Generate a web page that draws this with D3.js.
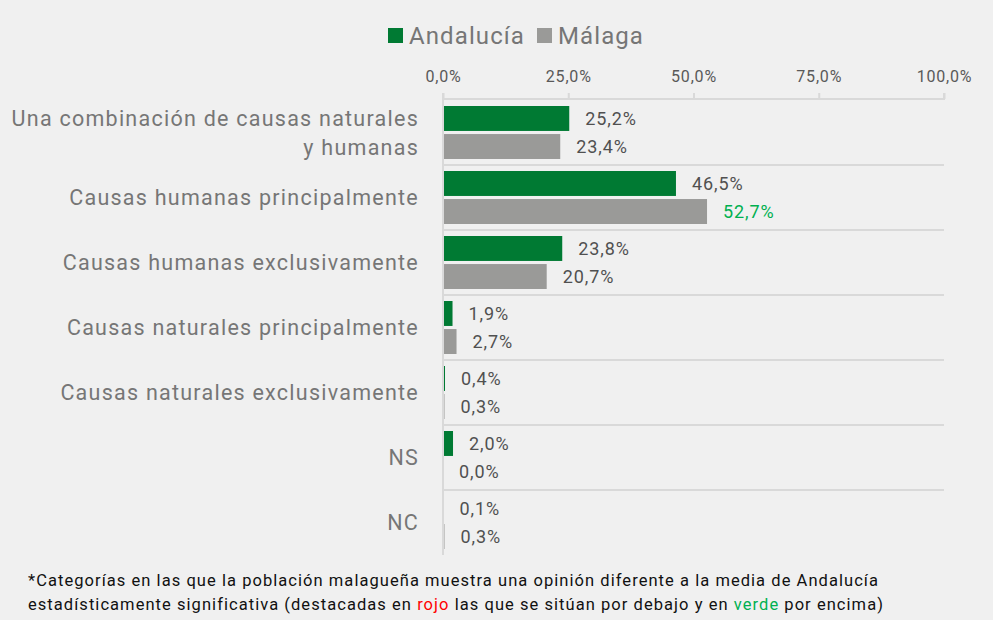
<!DOCTYPE html>
<html>
<head>
<meta charset="utf-8">
<script src="https://cdn.jsdelivr.net/npm/d3@7"></script>
<style>
  body { margin: 0; background: #f0f0f0; }
  svg { display: block; font-family: Roboto, "DejaVu Sans", sans-serif; }
</style>
</head>
<body>
<script>
'use strict';
// categories and values
let categories = [
  ["Una combinación de causas naturales", "y humanas"],
  ["Causas humanas principalmente"],
  ["Causas humanas exclusivamente"],
  ["Causas naturales principalmente"],
  ["Causas naturales exclusivamente"],
  ["NS"],
  ["NC"]
];
let andalucia = [25.2, 46.5, 23.8, 1.9, 0.4, 2.0, 0.1];
let malaga = [23.4, 52.7, 20.7, 2.7, 0.3, 0.0, 0.3];
// significance flag for Málaga vs Andalucía: 1 above, -1 below, 0 none
let malagaSig = [0, 1, 0, 0, 0, 0, 0];
let seriesNames = ["Andalucía", "Málaga"];
let xTicks = [0, 25, 50, 75, 100];

(function() {
  let width = 993, height = 620;
  let green = "#007a33", grey = "#9a9a98";
  let textGrey = "#595959", labelGrey = "#767676";

  let svg = d3.select("body").append("svg")
    .attr("width", width)
    .attr("height", height);

  svg.append("rect")
    .attr("width", width).attr("height", height)
    .attr("fill", "#f0f0f0");

  let x = d3.scaleLinear().domain([0, 100]).range([443, 944]);
  let y = d3.scaleBand().domain(d3.range(categories.length)).range([100, 555]);
  let inner = d3.scaleBand().domain([0, 1]).range([6, y.bandwidth() - 6]).paddingInner(0.11);

  let fmt = v => v.toFixed(1).replace(".", ",") + "%";

  // top axis
  let xAxis = d3.axisTop(x)
    .tickValues(xTicks)
    .tickSize(6)
    .tickFormat(fmt);
  let ax = svg.append("g")
    .attr("transform", "translate(0,99)")
    .call(xAxis);
  ax.select(".domain").attr("stroke", "#d9d9d9").attr("stroke-width", 2)
    .attr("d", "M443,-6V0H944V-6");
  ax.selectAll(".tick line").attr("stroke", "#d9d9d9").attr("stroke-width", 2);
  ax.selectAll(".tick text")
    .attr("y", -17)
    .attr("fill", textGrey)
    .style("font-size", "16px")
    .style("letter-spacing", "0.8px")
    .style("font-family", "Roboto, sans-serif");

  // category separators and left line
  svg.append("g").selectAll("line")
    .data(d3.range(1, categories.length))
    .enter().append("line")
      .attr("x1", x(0)).attr("x2", x(100))
      .attr("y1", d => y(d)).attr("y2", d => y(d))
      .attr("stroke", "#d9d9d9").attr("stroke-width", 2);
  svg.append("line")
    .attr("x1", x(0)).attr("x2", x(0))
    .attr("y1", 93).attr("y2", 555)
    .attr("stroke", "#d9d9d9").attr("stroke-width", 2);

  // bars
  let series = [andalucia, malaga];
  let colors = [green, grey];
  series.forEach((vals, s) => {
    let g = svg.append("g");
    g.selectAll("rect")
      .data(vals)
      .enter().append("rect")
        .attr("x", x(0) + 1)
        .attr("y", (d, i) => y(i) + inner(s))
        .attr("width", d => Math.max(0, x(d) - x(0) - 1))
        .attr("height", inner.bandwidth())
        .attr("fill", colors[s]);
    g.selectAll("text")
      .data(vals)
      .enter().append("text")
        .attr("x", d => Math.max(x(d), x(0)) + 16)
        .attr("y", (d, i) => y(i) + inner(s) + inner.bandwidth() / 2)
        .attr("dy", "0.35em")
        .attr("fill", (d, i) => {
          if (s === 1 && malagaSig[i] === 1) return "#00b050";
          if (s === 1 && malagaSig[i] === -1) return "#ff0000";
          return "#505050";
        })
        .style("font-size", "18px")
        .style("letter-spacing", "0.9px")
        .text(fmt);
  });

  // category labels
  let lab = svg.append("g").selectAll("text")
    .data(categories)
    .enter().append("text")
      .attr("text-anchor", "end")
      .attr("x", 419)
      .attr("y", (d, i) => y(i) + y.bandwidth() / 2 - (d.length - 1) * 14.5)
      .attr("fill", labelGrey)
      .style("font-size", "21.5px")
      .style("letter-spacing", "1.25px");
  lab.selectAll("tspan")
    .data(d => d)
    .enter().append("tspan")
      .attr("x", 419)
      .attr("dy", (d, i) => i === 0 ? "0.35em" : "29px")
      .text(d => d);

  // legend
  let legend = svg.append("g");
  let lx = [388, 537];
  seriesNames.forEach((n, i) => {
    legend.append("rect")
      .attr("x", lx[i]).attr("y", 28)
      .attr("width", 15).attr("height", 15)
      .attr("fill", colors[i]);
    legend.append("text")
      .attr("x", lx[i] + 21).attr("y", 36)
      .attr("dy", "0.35em")
      .attr("fill", labelGrey)
      .style("font-size", "24px")
      .style("letter-spacing", "1.1px")
      .text(n);
  });

  // footnote
  let note = svg.append("g")
    .style("font-size", "16.5px")
    .style("letter-spacing", "1.05px")
    .attr("fill", "#111");
  note.append("text").attr("x", 28).attr("y", 586)
    .text("*Categorías en las que la población malagueña muestra una opinión diferente a la media de Andalucía");
  let t2 = note.append("text").attr("x", 28).attr("y", 610);
  t2.append("tspan").text("estadísticamente significativa (destacadas en ");
  t2.append("tspan").attr("fill", "#ff0000").text("rojo");
  t2.append("tspan").text(" las que se sitúan por debajo y en ");
  t2.append("tspan").attr("fill", "#00b050").text("verde");
  t2.append("tspan").text(" por encima)");
})();
</script>
</body>
</html>
